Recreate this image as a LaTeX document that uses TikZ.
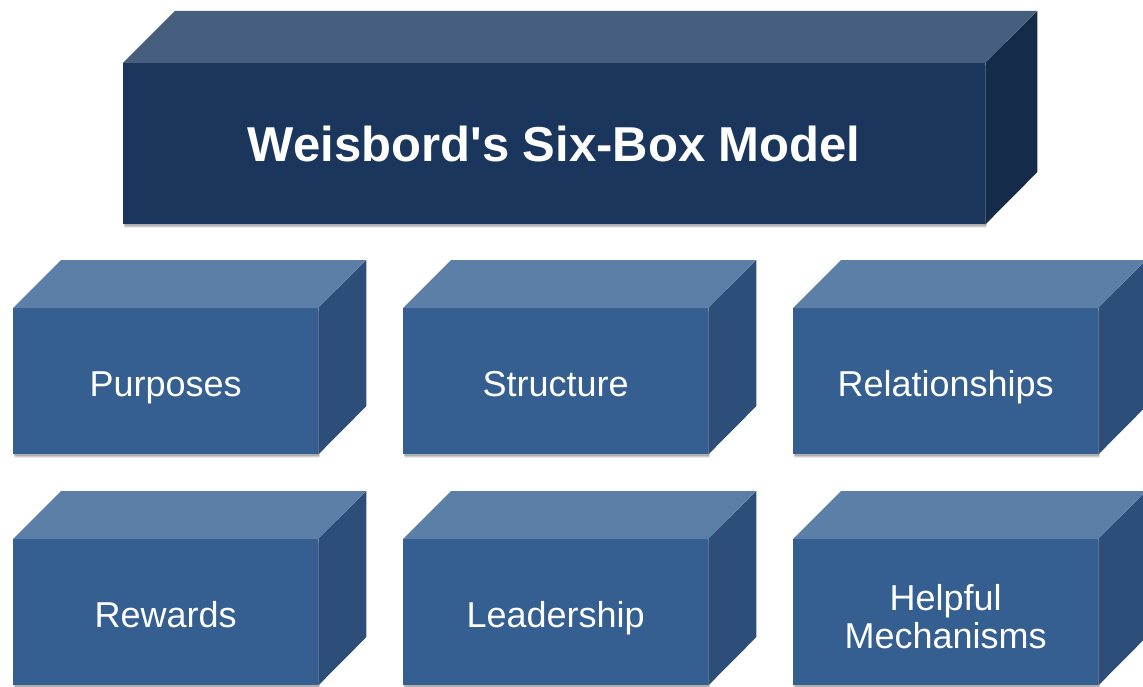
\documentclass[tikz,border=0pt]{standalone}
\usepackage{fontspec}
\setmainfont{Liberation Sans}
\usetikzlibrary{shadows}
\definecolor{hdFront}{RGB}{27,54,93}
\definecolor{hdTop}{RGB}{70,95,126}
\definecolor{hdSide}{RGB}{21,43,74}
\definecolor{bxFront}{RGB}{53,94,145}
\definecolor{bxTop}{RGB}{92,127,168}
\definecolor{bxSide}{RGB}{44,78,121}
% front face of a block; top and right faces are added by \blockfaces
\tikzset{
  softshadow/.style={
    general shadow={shadow xshift=1pt, shadow yshift=-4pt, opacity=0.08, fill=black},
    general shadow={shadow xshift=1.5pt, shadow yshift=-2.5pt, opacity=0.12, fill=black},
    general shadow={shadow xshift=1pt, shadow yshift=-1.5pt, opacity=0.15, fill=black}},
  blockfront/.style={rectangle, inner sep=0pt, text=white, align=center, softshadow},
  headblock/.style={blockfront, fill=hdFront, minimum width=862pt, minimum height=161pt,
    font=\bfseries\fontsize{49}{55}\selectfont, text height=35pt, text depth=0pt},
  smallblock/.style={blockfront, fill=bxFront, minimum width=305pt, minimum height=146pt,
    font=\fontsize{36}{38}\selectfont, text height=30pt, text depth=0pt},
}
% #1 node name, #2 depth, #3 width, #4 height, #5 top colour, #6 side colour
\newcommand{\blockfaces}[6]{%
  \fill[#5] (#1.north west) -- ++(#2,-#2) -- ++(#3,0) -- (#1.north east) -- cycle;
  \fill[#6] (#1.north east) -- ++(#2,-#2) -- ++(0,#4) -- (#1.south east) -- cycle;
}
\begin{document}
\begin{tikzpicture}[x=1pt,y=-1pt]
\useasboundingbox (0,0) rectangle (1143,687);
\clip (0,0) rectangle (1143,687);
\fill[white] (0,0) rectangle (1143,687);

% header block
\node[headblock, anchor=north west] (model) at (123,63)
  {Weisbord\textquotesingle s Six-Box Model};
\blockfaces{model}{52}{862}{161}{hdTop}{hdSide}

% first row
\node[smallblock, anchor=north west] (purposes) at (13,308) {Purposes};
\node[smallblock, anchor=north west] (structure) at (403,308) {Structure};
\node[smallblock, anchor=north west] (relationships) at (793,308) {Relationships};
% second row
\node[smallblock, anchor=north west] (rewards) at (13,539) {Rewards};
\node[smallblock, anchor=north west] (leadership) at (403,539) {Leadership};
\node[smallblock, anchor=north west] (mechanisms) at (793,539) {\vphantom{H}};
\node[text=white, font=\fontsize{36}{38}\selectfont, align=center, yshift=-4pt]
  (mechtext) at (mechanisms.center) {Helpful\\Mechanisms};

\foreach \b in {purposes,structure,relationships,rewards,leadership,mechanisms}{
  \blockfaces{\b}{48}{305}{146}{bxTop}{bxSide}
}
\end{tikzpicture}
\end{document}
